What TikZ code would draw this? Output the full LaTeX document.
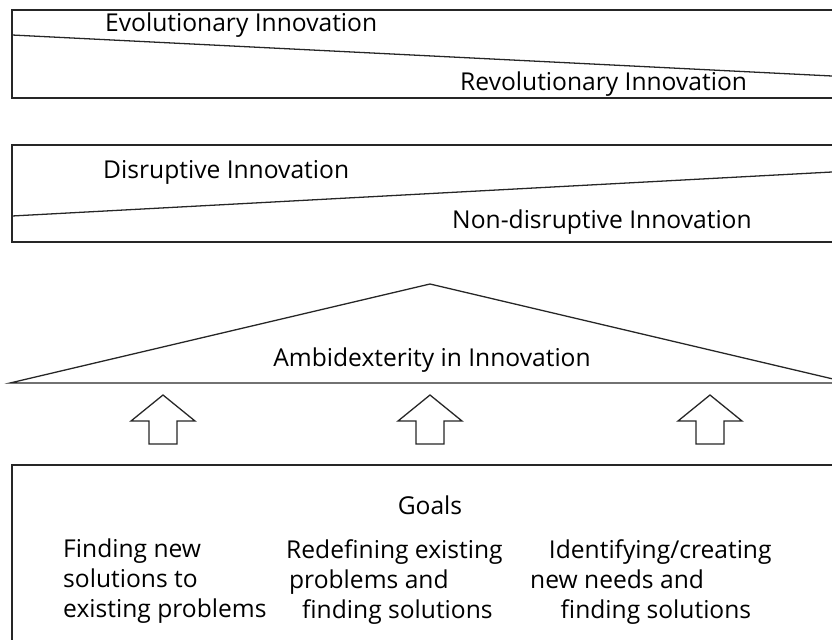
\documentclass[tikz,border=0pt]{standalone}
\usepackage{fontspec}
\setmainfont{Open Sans}

\tikzset{
  frame/.style={draw=black!85, line width=1.1pt},
  lbl/.style={font=\fontsize{21}{25.6}\selectfont, inner sep=0pt, anchor=west},
  goal/.style={lbl, align=left, anchor=north west},
  uparrow/.pic={
    \draw[frame, fill=white] (-14,49) -- (-14,26) -- (-32,26) -- (0,0)
      -- (32,26) -- (14,26) -- (14,49) -- cycle;
  }
}

\begin{document}
\begin{tikzpicture}[x=0.03cm, y=-0.03cm]
  \useasboundingbox (0,0) rectangle (832,640);
  \clip (0,0) rectangle (832,640);

  % evolutionary / revolutionary
  \draw[frame] (12,10) rectangle (850,98);
  \coordinate (e1) at (12,35);
  \coordinate (e2) at (832,76);
  \draw[frame] (e1) -- (e2);
  \node[lbl] (evo) at (105,25) {Evolutionary Innovation};
  \node[lbl] (rev) at (460,84) {Revolutionary Innovation};

  % disruptive / non-disruptive
  \draw[frame] (12,145) rectangle (850,242);
  \coordinate (d1) at (12,216);
  \coordinate (d2) at (832,172);
  \draw[frame] (d1) -- (d2);
  \node[lbl] (dis) at (103,172) {Disruptive Innovation};
  \node[lbl] (nondis) at (452,222) {Non-disruptive Innovation};

  % ambidexterity
  \coordinate (apex) at (430,284);
  \draw[frame] (10,383) -- (apex) -- (850,383) -- cycle;
  \node[lbl, anchor=center] (ambi) at (432,360) {Ambidexterity in Innovation};

  % arrows
  \foreach \x in {163,430,710}
    \pic at (\x,395) {uparrow};

  % goals
  \draw[frame] (12,465) rectangle (850,660);
  \node[lbl, anchor=center] (goals) at (430,505) {Goals};
  \node[goal] (goalA) at (63,539) {Finding new\\solutions to\\existing problems};
  \node[goal] (goalB) at (286,539) {Redefining existing\\\hspace*{2.5pt}problems and\\\hspace*{13.6pt}finding solutions};
  \node[goal] (goalC) at (530,539) {\hspace*{16pt}Identifying/creating\\new needs and\\\hspace*{26pt}finding solutions};
\end{tikzpicture}
\end{document}
